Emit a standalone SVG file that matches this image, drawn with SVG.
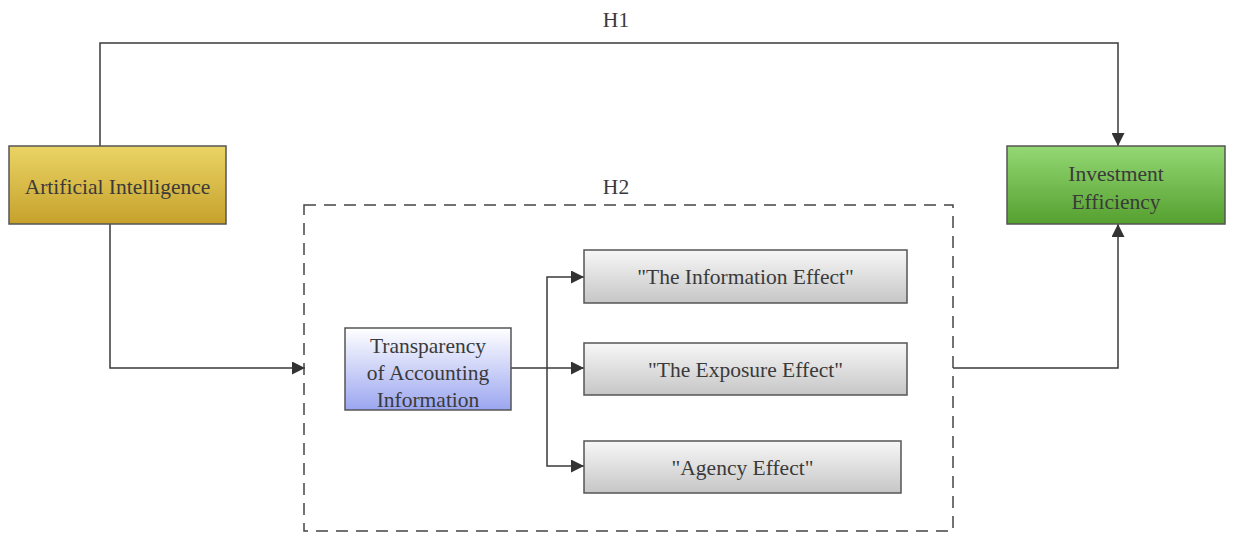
<svg xmlns="http://www.w3.org/2000/svg" width="1235" height="536" viewBox="0 0 1235 536">
<defs>
<linearGradient id="gGold" x1="0" y1="0" x2="0" y2="1"><stop offset="0" stop-color="#ead465"/><stop offset="1" stop-color="#c6a12c"/></linearGradient>
<linearGradient id="gGreen" x1="0" y1="0" x2="0" y2="1"><stop offset="0" stop-color="#94d874"/><stop offset="1" stop-color="#55a02f"/></linearGradient>
<linearGradient id="gBlue" x1="0" y1="0" x2="0" y2="1"><stop offset="0" stop-color="#ffffff"/><stop offset="1" stop-color="#9ba6f0"/></linearGradient>
<linearGradient id="gGray" x1="0" y1="0" x2="0" y2="1"><stop offset="0" stop-color="#f7f7f7"/><stop offset="1" stop-color="#c6c6c6"/></linearGradient>
<marker id="arr" viewBox="0 0 10 10" refX="10" refY="5" markerWidth="18" markerHeight="13" markerUnits="userSpaceOnUse" orient="auto"><path d="M0,0 L10,5 L0,10 z" fill="#333"/></marker>
</defs>
<style>
text{font-family:"Liberation Serif","Times New Roman",serif;font-size:21.5px;text-anchor:middle;fill:#3a3a3a}
.node rect{stroke:#555;stroke-width:1.5}
.con path{fill:none;stroke:#3a3a3a;stroke-width:1.5}
</style>
<rect width="1235" height="536" fill="#fff"/>
<g class="con">
<path d="M100,146 V43 H1118 V146" marker-end="url(#arr)"/>
<path d="M110,224 V368 H305" marker-end="url(#arr)"/>
<path d="M511,368 H584" marker-end="url(#arr)"/>
<path d="M547,368 V277 H584" marker-end="url(#arr)"/>
<path d="M547,368 V466 H584" marker-end="url(#arr)"/>
<path d="M953,368 H1118 V224" marker-end="url(#arr)"/>
</g>
<text x="616" y="27">H1</text>
<g id="h2">
<rect x="304" y="205" width="649" height="326" fill="none" stroke="#444" stroke-width="1.5" stroke-dasharray="12,8"/>
<text x="616" y="194">H2</text>
</g>
<g id="ai" class="node">
<rect x="9" y="146" width="217" height="78" fill="url(#gGold)" stroke="#5a4b2a"/>
<text x="117.5" y="194" fill="#4a3d1c">Artificial Intelligence</text>
</g>
<g id="ie" class="node">
<rect x="1007" y="146" width="218" height="78" fill="url(#gGreen)" stroke="#3d5a2a"/>
<text x="1116" y="181" fill="#2e4a1e">Investment</text>
<text x="1116" y="209" fill="#2e4a1e">Efficiency</text>
</g>
<g id="tai" class="node">
<rect x="345" y="328" width="166" height="82" fill="url(#gBlue)" stroke="#555"/>
<text x="428" y="353">Transparency</text>
<text x="428" y="380">of Accounting</text>
<text x="428" y="407">Information</text>
</g>
<g id="info" class="node">
<rect x="584" y="250" width="323" height="53" fill="url(#gGray)"/>
<text x="745.5" y="284">"The Information Effect"</text>
</g>
<g id="expo" class="node">
<rect x="584" y="343" width="323" height="52" fill="url(#gGray)"/>
<text x="745.5" y="377">"The Exposure Effect"</text>
</g>
<g id="agency" class="node">
<rect x="584" y="441" width="317" height="52" fill="url(#gGray)"/>
<text x="742.5" y="475">"Agency Effect"</text>
</g>
</svg>
